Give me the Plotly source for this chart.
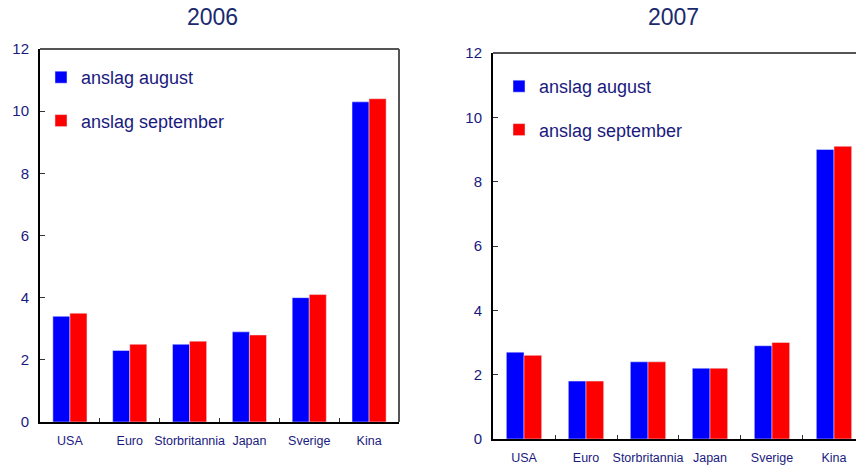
import plotly.graph_objects as go

categories = ["USA", "Euro", "Storbritannia", "Japan", "Sverige", "Kina"]
aug_2006 = [3.4, 2.3, 2.5, 2.9, 4.0, 10.3]
sep_2006 = [3.5, 2.5, 2.6, 2.8, 4.1, 10.4]
aug_2007 = [2.7, 1.8, 2.4, 2.2, 2.9, 9.0]
sep_2007 = [2.6, 1.8, 2.4, 2.2, 3.0, 9.1]
series_names = ["anslag august", "anslag september"]
titles = ["2006", "2007"]
y_ticks = [0, 2, 4, 6, 8, 10, 12]

BLUE = "#0000FF"
RED = "#FF0000"
NAVY = "#1a1a7e"
FONT = "Liberation Sans, Arial, sans-serif"

fig = go.Figure()
fig.add_trace(go.Bar(x=categories, y=aug_2006, name=series_names[0], marker_color=BLUE,
                     xaxis="x", yaxis="y", legend="legend", legendgroup="a1"))
fig.add_trace(go.Bar(x=categories, y=sep_2006, name=series_names[1], marker_color=RED,
                     xaxis="x", yaxis="y", legend="legend", legendgroup="b1"))
fig.add_trace(go.Bar(x=categories, y=aug_2007, name=series_names[0], marker_color=BLUE,
                     xaxis="x2", yaxis="y2", legend="legend2", legendgroup="a2"))
fig.add_trace(go.Bar(x=categories, y=sep_2007, name=series_names[1], marker_color=RED,
                     xaxis="x2", yaxis="y2", legend="legend2", legendgroup="b2"))

W, H = 856, 468
def px_x(p):
    return p / W
def px_y(p):
    return 1 - p / H

xaxis_common = dict(type="category", showline=True, linecolor="#000000", linewidth=2,
                    ticks="inside", ticklen=4, tickcolor="#333333", tickson="boundaries",
                    tickangle=0, automargin=False, ticklabelstandoff=6,
                    tickfont=dict(family=FONT, size=12.5, color=NAVY), showgrid=False,
                    zeroline=False, fixedrange=True)
yaxis_common = dict(range=[0, 12], tickvals=y_ticks, showline=True, linecolor="#000000",
                    linewidth=2, ticks="inside", ticklen=5, tickcolor="#333333",
                    automargin=False,
                    tickfont=dict(family=FONT, size=15, color=NAVY), showgrid=False,
                    zeroline=False, ticklabelstandoff=6)

legend_font = dict(family=FONT, size=18, color=NAVY)

fig.update_layout(
    width=W, height=H,
    margin=dict(l=0, r=0, t=0, b=0, autoexpand=False),
    paper_bgcolor="white", plot_bgcolor="white",
    barmode="group", bargap=0.43, bargroupgap=0,
    xaxis=dict(domain=[px_x(40), px_x(399)], range=[-0.5, 5.5], anchor="y", **xaxis_common),
    yaxis=dict(domain=[px_y(422), px_y(49)], anchor="x", **yaxis_common),
    xaxis2=dict(domain=[px_x(493), 1.0], range=[-0.5, 5.355], anchor="y2", **xaxis_common),
    yaxis2=dict(domain=[px_y(439), px_y(53)], anchor="x2", **yaxis_common),
    legend=dict(x=px_x(41), y=px_y(59), xanchor="left", yanchor="top",
                font=legend_font, bgcolor="rgba(0,0,0,0)",
                tracegroupgap=17, itemwidth=30),
    legend2=dict(x=px_x(499), y=px_y(68), xanchor="left", yanchor="top",
                 font=legend_font, bgcolor="rgba(0,0,0,0)",
                 tracegroupgap=17, itemwidth=30),
    annotations=[
        dict(text=titles[0], x=px_x(212), y=px_y(17), xref="paper", yref="paper",
             xanchor="center", yanchor="middle", showarrow=False,
             font=dict(family=FONT, size=23, color="#1a2a6e")),
        dict(text=titles[1], x=px_x(673), y=px_y(17), xref="paper", yref="paper",
             xanchor="center", yanchor="middle", showarrow=False,
             font=dict(family=FONT, size=23, color="#1a2a6e")),
    ],
    shapes=[
        dict(type="line", xref="x domain", yref="y domain", x0=0, x1=1, y0=1, y1=1,
             line=dict(color="#555555", width=2)),
        dict(type="line", xref="x domain", yref="y domain", x0=1, x1=1, y0=0, y1=1,
             line=dict(color="#555555", width=2)),
        dict(type="line", xref="x2 domain", yref="y2 domain", x0=0, x1=1, y0=1, y1=1,
             line=dict(color="#555555", width=2)),
    ],
)

fig.write_html("out.html", config={"displayModeBar": False},
               post_script="document.body.style.margin='0px';")
